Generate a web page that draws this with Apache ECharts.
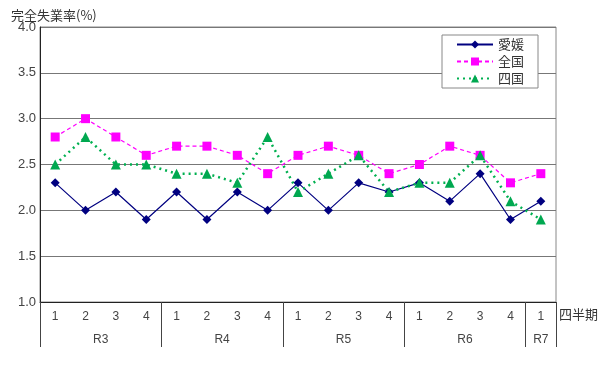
<!DOCTYPE html>
<html><head><meta charset="utf-8">
<script src="https://cdn.jsdelivr.net/npm/echarts@6/dist/echarts.min.js"></script>
<style>html,body{margin:0;padding:0;background:#fff}#c{width:600px;height:365px}</style>
</head><body><div id="c"></div>
<script>
const quarters = ['1','2','3','4','1','2','3','4','1','2','3','4','1','2','3','4','1'];
const years = ['R3','R4','R5','R6','R7'];
const yearCounts = [4,4,4,4,1];
const ehime = [2.3,2.0,2.2,1.9,2.2,1.9,2.2,2.0,2.3,2.0,2.3,2.2,2.3,2.1,2.4,1.9,2.1];
const zenkoku = [2.8,3.0,2.8,2.6,2.7,2.7,2.6,2.4,2.6,2.7,2.6,2.4,2.5,2.7,2.6,2.3,2.4];
const shikoku = [2.5,2.8,2.5,2.5,2.4,2.4,2.3,2.8,2.2,2.4,2.6,2.2,2.3,2.3,2.6,2.1,1.9];
const yTicks = [1.0,1.5,2.0,2.5,3.0,3.5,4.0];

const bounds = [0]; yearCounts.forEach(c => bounds.push(bounds[bounds.length-1]+c));
const mids = years.map((y,i) => (bounds[i]+bounds[i+1])/2);
const font = 'Liberation Sans, Noto Sans CJK JP, sans-serif';
const chart = echarts.init(document.getElementById('c'), null, {renderer:'canvas'});
chart.setOption({
  animation:false,
  textStyle:{fontFamily:font},
  title:{text:'完全失業率(%)', left:6, top:4, textStyle:{fontSize:13, fontWeight:'normal', color:'#333', fontFamily:'Noto Sans CJK JP'}},
  graphic:[{type:'text', left:559, top:308, style:{text:'四半期', fontSize:13, fill:'#333', fontFamily:'Noto Sans CJK JP'}}],
  grid:{left:40, right:44, top:27, bottom:63, show:true, borderColor:'#888', borderWidth:1},
  legend:{orient:'vertical', left:442, top:35, padding:[3,14,3,14], itemGap:4, itemWidth:36, itemHeight:10,
    borderColor:'#888', borderWidth:1, backgroundColor:'#fff',
    textStyle:{fontSize:13, color:'#333', fontFamily:'Noto Sans CJK JP'},
    data:['愛媛','全国','四国']},
  xAxis:[
    {type:'category', data:quarters, boundaryGap:true, position:'bottom',
     axisLine:{lineStyle:{color:'#222'}},
     axisTick:{interval:0, length:23, lineStyle:{color:'#444'}},
     axisLabel:{interval:0, margin:9, fontSize:12, color:'#444'}},
    {type:'value', min:0, max:17, position:'bottom', offset:0,
     axisLine:{show:false}, splitLine:{show:false},
     axisTick:{show:true, customValues:bounds, length:45, lineStyle:{color:'#444'}},
     axisLabel:{customValues:mids, margin:32, fontSize:12, color:'#444',
       formatter:v => { const i = mids.findIndex(m => Math.abs(m-v)<1e-6); return i>=0?years[i]:''; }}}
  ],
  yAxis:{type:'value', min:1, max:4, interval:0.5,
    axisLine:{show:true, lineStyle:{color:'#222'}}, axisTick:{show:false},
    axisLabel:{margin:4, fontSize:13, color:'#444', formatter:v => v.toFixed(1)},
    splitLine:{lineStyle:{color:'#777', width:1}}},
  series:[
    {name:'愛媛', type:'line', data:ehime, symbol:'diamond', symbolSize:9,
     itemStyle:{color:'#000080'}, lineStyle:{color:'#000080', width:1.2}},
    {name:'全国', type:'line', data:zenkoku, symbol:'rect', symbolSize:9,
     itemStyle:{color:'#FF00FF'}, lineStyle:{color:'#FF00FF', width:1.2, type:[4,3]}},
    {name:'四国', type:'line', data:shikoku, symbol:'triangle', symbolSize:10,
     itemStyle:{color:'#00A850'}, lineStyle:{color:'#00B050', width:2.5, type:[2,4]}}
  ]
});
</script></body></html>
